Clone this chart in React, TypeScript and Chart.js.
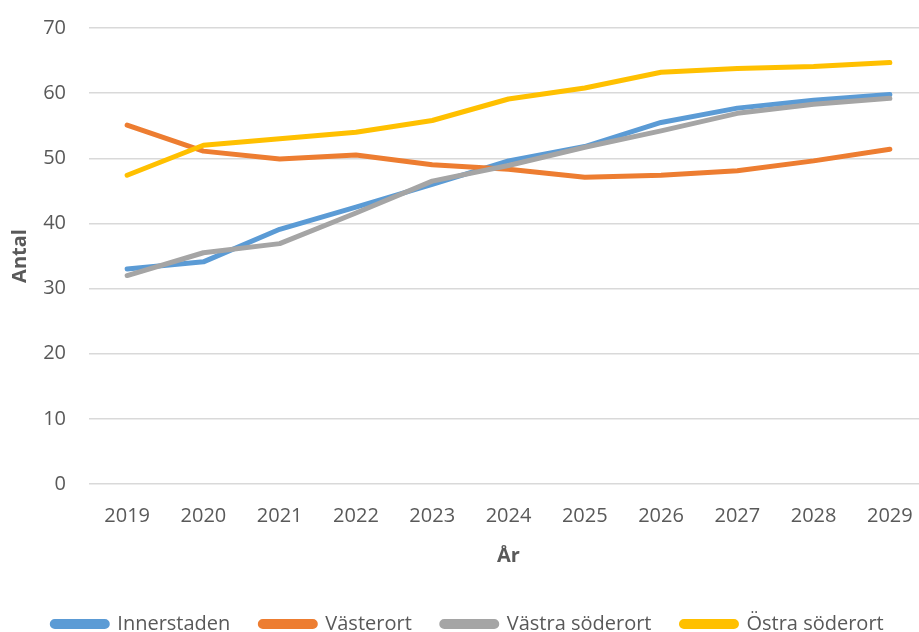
import React, { useEffect, useRef } from "react";
import { Chart, registerables } from "chart.js";

Chart.register(...registerables);

const years = ["2019", "2020", "2021", "2022", "2023", "2024", "2025", "2026", "2027", "2028", "2029"];
const innerstaden = [33.0, 34.1, 39.1, 42.5, 46.0, 49.6, 51.8, 55.5, 57.7, 58.9, 59.8];
const vasterort = [55.1, 51.1, 49.9, 50.5, 49.0, 48.3, 47.1, 47.4, 48.1, 49.6, 51.4];
const vastraSoderort = [32.0, 35.5, 36.9, 41.6, 46.5, 48.9, 51.7, 54.2, 56.9, 58.3, 59.2];
const ostraSoderort = [47.4, 52.0, 53.0, 54.0, 55.8, 59.1, 60.8, 63.2, 63.8, 64.1, 64.7];

const seriesNames = ["Innerstaden", "Västerort", "Västra söderort", "Östra söderort"];
const seriesColors = ["#5B9BD5", "#ED7D31", "#A5A5A5", "#FFC000"];
const seriesData = [innerstaden, vasterort, vastraSoderort, ostraSoderort];

const FONT = "'Open Sans', sans-serif";
const TEXT = "#595959";

export default function App() {
  const ref = useRef<HTMLCanvasElement | null>(null);

  useEffect(() => {
    if (!ref.current) return;
    const chart = new Chart(ref.current, {
      type: "line",
      data: {
        labels: years,
        datasets: seriesData.map((d, i) => ({
          label: seriesNames[i],
          data: d,
          borderColor: seriesColors[i],
          backgroundColor: seriesColors[i],
          borderWidth: 5,
          borderCapStyle: "round",
          borderJoinStyle: "round",
          pointRadius: 0,
          pointHoverRadius: 0,
          tension: 0,
          fill: false,
          order: 3 - i,
        })),
      },
      options: {
        responsive: false,
        animation: false,
        layout: { padding: { top: 28, right: 2, left: 8, bottom: -12 } },
        plugins: {
          tooltip: { enabled: false },
          legend: {
            position: "bottom",
            labels: {
              sort: (a: any, b: any) => a.datasetIndex - b.datasetIndex,
              boxWidth: 55,
              boxHeight: 5,
              useBorderRadius: true,
              borderRadius: 2.5,
              padding: 30,
              color: TEXT,
              font: { family: FONT, size: 20 },
            },
          },
        },
        scales: {
          x: {
            offset: true,
            grid: { display: false, offset: true },
            border: { display: false },
            ticks: { color: TEXT, font: { family: FONT, size: 20 }, padding: 12, maxRotation: 0 },
            title: {
              display: true,
              text: "År",
              color: TEXT,
              font: { family: FONT, size: 20, weight: "bold" },
              padding: { top: 4, bottom: 16 },
            },
          },
          y: {
            min: 0,
            max: 70,
            ticks: { stepSize: 10, color: TEXT, font: { family: FONT, size: 20 }, padding: 23 },
            grid: { color: "#D9D9D9", lineWidth: 1.5, drawTicks: false },
            border: { display: false },
            afterFit: (scale: any) => {
              scale.width = 81;
              scale.paddingTop = 0;
              scale.paddingBottom = 0;
            },
            title: {
              display: true,
              text: "Antal",
              color: TEXT,
              font: { family: FONT, size: 20, weight: "bold" },
              padding: { top: 0, bottom: 0 },
            },
          },
        },
      },
    });
    return () => chart.destroy();
  }, []);

  return (
    <div style={{ position: "fixed", left: 0, top: 0, width: 919, height: 632, overflow: "hidden", background: "#fff" }}>
      <canvas ref={ref} width={930} height={632} style={{ display: "block" }} />
    </div>
  );
}
